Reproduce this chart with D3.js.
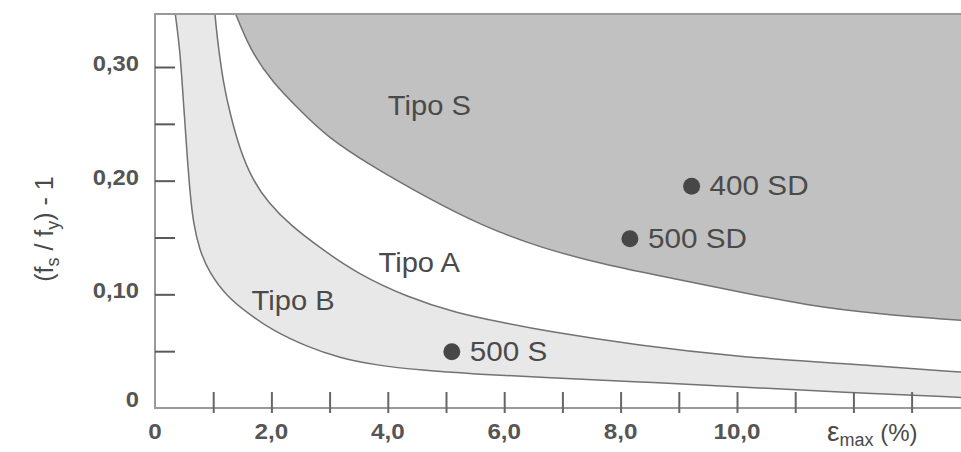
<!DOCTYPE html>
<html lang="es">

<head>
	<meta charset="utf-8">
	<title>Tipo S, A, B</title>

	<style>
		body {
			margin: 0;
			background: #fff;
		}

		svg {
			display: block;
		}

		.txt {
			font-family: 'Liberation Sans', Arial, sans-serif;
			fill: #4a4a4a;
		}

		.tick-label {
			font-size: 22px;
			font-weight: bold;
			fill: #555;
		}

		.zone-label {
			font-size: 28px;
		}

		.limit {
			fill: none;
			stroke: #727272;
			stroke-width: 1.5;
		}
	</style>
</head>

<body>
	<svg width="961" height="452"></svg>

	<script src="https://cdn.jsdelivr.net/npm/d3@7"></script>

	<script type="text/javascript">
		// limit curves: strain (%) -> (fs/fy) - 1
		var limitBx = [0.34, 0.43, 0.486, 0.545, 0.6, 0.66, 0.76, 0.92, 1.232, 1.632, 2.027, 2.607, 3.179, 3.746, 4.605, 5.464, 6.615, 8.333, 10.05, 11.77, 14.0];
		var limitBy = [0.35, 0.315, 0.271, 0.227, 0.19, 0.162, 0.14, 0.12, 0.098, 0.082, 0.068, 0.054, 0.044, 0.038, 0.033, 0.03, 0.027, 0.023, 0.0185, 0.014, 0.009];

		var limitAx = [1.025, 1.06, 1.174, 1.3, 1.46, 1.684, 1.942, 2.32, 2.887, 3.466, 4.325, 5.184, 6.043, 6.615, 8.333, 10.05, 11.77, 14.0];
		var limitAy = [0.35, 0.329, 0.285, 0.257, 0.227, 0.2, 0.181, 0.161, 0.139, 0.1186, 0.0977, 0.0834, 0.0746, 0.0685, 0.0547, 0.0449, 0.0394, 0.031];

		var limitSx = [1.36, 1.632, 2.027, 2.491, 2.95, 3.746, 4.605, 5.584, 6.615, 7.761, 8.9, 10.05, 11.2, 12.34, 14.0];
		var limitSy = [0.35, 0.315, 0.286, 0.262, 0.2386, 0.212, 0.187, 0.161, 0.141, 0.1256, 0.114, 0.102, 0.0904, 0.0831, 0.0765];

		// steel grades
		var gradeNames = ["400 SD", "500 SD", "500 S"];
		var gradeStrain = [9.22, 8.16, 5.10];
		var gradeRatio = [0.195, 0.149, 0.0495];

		// zone names and where they sit (data units, left/baseline)
		var zoneNames = ["Tipo S", "Tipo A", "Tipo B"];
		var zoneX = [4.0, 3.84, 1.66];
		var zoneY = [0.258, 0.1197, 0.086];

		var xTicks = [1, 2, 3, 4, 5, 6, 7, 8, 9, 10, 11, 12, 13];
		var xLabels = [0, 2, 4, 6, 8, 10];
		var yTicks = [0.05, 0.10, 0.15, 0.20, 0.25, 0.30];
		var yLabels = [0, 0.10, 0.20, 0.30];

		var svg = d3.select("svg");
		var plotLeft = 155,
			plotRight = 961,
			plotTop = 14,
			plotBottom = 408;

		var x = d3.scaleLinear().domain([0, 10]).range([plotLeft, 737]);
		var y = d3.scaleLinear().domain([0, 0.30]).range([plotBottom, 67]);

		var es = d3.formatLocale({
			decimal: ",",
			thousands: ".",
			grouping: [3],
			currency: ["", " €"]
		});
		var fmtX = function(v) { return v === 0 ? "0" : es.format(".1f")(v); };
		var fmtY = function(v) { return v === 0 ? "0" : es.format(".2f")(v); };

		svg.append("clipPath").attr("id", "plot")
			.append("rect")
			.attr("x", plotLeft).attr("y", plotTop)
			.attr("width", plotRight - plotLeft).attr("height", plotBottom - plotTop);

		var line = d3.line().curve(d3.curveBasis);

		function pts(xs, ys) {
			return xs.map(function(v, i) { return [x(v), y(ys[i])]; });
		}

		// region above/right of a limit, closed along the top right corner
		function zone(xs, ys) {
			return line(pts(xs, ys)) + "L" + x(14) + "," + y(0.35) + "Z";
		}

		var plot = svg.append("g").attr("clip-path", "url(#plot)");

		plot.append("path").attr("d", zone(limitBx, limitBy)).style("fill", "#e8e8e8");
		plot.append("path").attr("d", zone(limitAx, limitAy)).style("fill", "#fff");
		plot.append("path").attr("d", zone(limitSx, limitSy)).style("fill", "#c1c1c1");

		[[limitBx, limitBy], [limitAx, limitAy], [limitSx, limitSy]].forEach(function(c) {
			plot.append("path").attr("class", "limit").attr("d", line(pts(c[0], c[1])));
		});

		// frame
		svg.append("line")
			.attr("x1", plotLeft).attr("x2", plotRight)
			.attr("y1", plotTop).attr("y2", plotTop)
			.style("stroke", "#9a9a9a").style("stroke-width", 2);
		svg.append("line")
			.attr("x1", plotLeft).attr("x2", plotLeft)
			.attr("y1", plotTop - 1).attr("y2", plotBottom + 1)
			.style("stroke", "#9a9a9a").style("stroke-width", 2);
		svg.append("line")
			.attr("x1", plotLeft).attr("x2", plotRight)
			.attr("y1", plotBottom).attr("y2", plotBottom)
			.style("stroke", "#9a9a9a").style("stroke-width", 2);

		// x ticks cross the axis
		var xAxis = svg.append("g")
			.attr("transform", "translate(0," + plotBottom + ")")
			.call(d3.axisBottom(x).tickValues(xTicks).tickSizeInner(-16).tickSizeOuter(0).tickFormat(""));
		xAxis.select(".domain").remove();
		xAxis.selectAll(".tick line")
			.attr("y1", 5)
			.style("stroke", "#666").style("stroke-width", 2);

		// y ticks point inward
		var yAxis = svg.append("g")
			.attr("transform", "translate(" + plotLeft + ",0)")
			.call(d3.axisRight(y).tickValues(yTicks).tickSizeInner(20).tickSizeOuter(0).tickFormat(""));
		yAxis.select(".domain").remove();
		yAxis.selectAll(".tick line")
			.style("stroke", "#5a5a5a").style("stroke-width", 2);

		svg.selectAll(".xlab").data(xLabels)
			.enter().append("text")
			.attr("class", "txt tick-label xlab")
			.attr("text-anchor", "middle")
			.attr("transform", function(d) { return "translate(" + x(d) + ",439) scale(1.1,1)"; })
			.text(fmtX);

		svg.selectAll(".ylab").data(yLabels)
			.enter().append("text")
			.attr("class", "txt tick-label ylab")
			.attr("text-anchor", "end")
			.attr("transform", function(d) { return "translate(139," + (y(d) + (d === 0 ? -1 : 4)) + ") scale(1.08,1)"; })
			.text(fmtY);

		// axis titles
		var yTitle = svg.append("text")
			.attr("class", "txt")
			.attr("text-anchor", "middle")
			.attr("transform", "translate(53,229) rotate(-90)")
			.style("font-size", "25px");
		yTitle.append("tspan").text("(f");
		yTitle.append("tspan").attr("dy", 6).style("font-size", "18px").text("s");
		yTitle.append("tspan").attr("dy", -6).text(" / f");
		yTitle.append("tspan").attr("dy", 6).style("font-size", "18px").text("y");
		yTitle.append("tspan").attr("dy", -6).text(") - 1");

		var xTitle = svg.append("text")
			.attr("class", "txt")
			.attr("x", 827).attr("y", 441)
			.style("font-size", "24px");
		xTitle.append("tspan").style("font-size", "28px").text("ε");
		xTitle.append("tspan").attr("dy", 5).style("font-size", "18px").text("max");
		xTitle.append("tspan").attr("dy", -5).text(" (%)");

		// zone names
		svg.selectAll(".zone").data(zoneNames)
			.enter().append("text")
			.attr("class", "txt zone-label zone")
			.attr("transform", function(d, i) {
				return "translate(" + x(zoneX[i]) + "," + y(zoneY[i]) + ") scale(1.04,1)";
			})
			.text(function(d) { return d; });

		// grades
		var grade = svg.selectAll(".grade").data(gradeNames)
			.enter().append("g")
			.attr("class", "grade")
			.attr("transform", function(d, i) {
				return "translate(" + x(gradeStrain[i]) + "," + y(gradeRatio[i]) + ")";
			});
		grade.append("circle").attr("r", 8.5).style("fill", "#474747");
		grade.append("text")
			.attr("class", "txt zone-label")
			.attr("transform", "translate(18,9) scale(1.06,1)")
			.text(function(d) { return d; });
	</script>

</body>

</html>
